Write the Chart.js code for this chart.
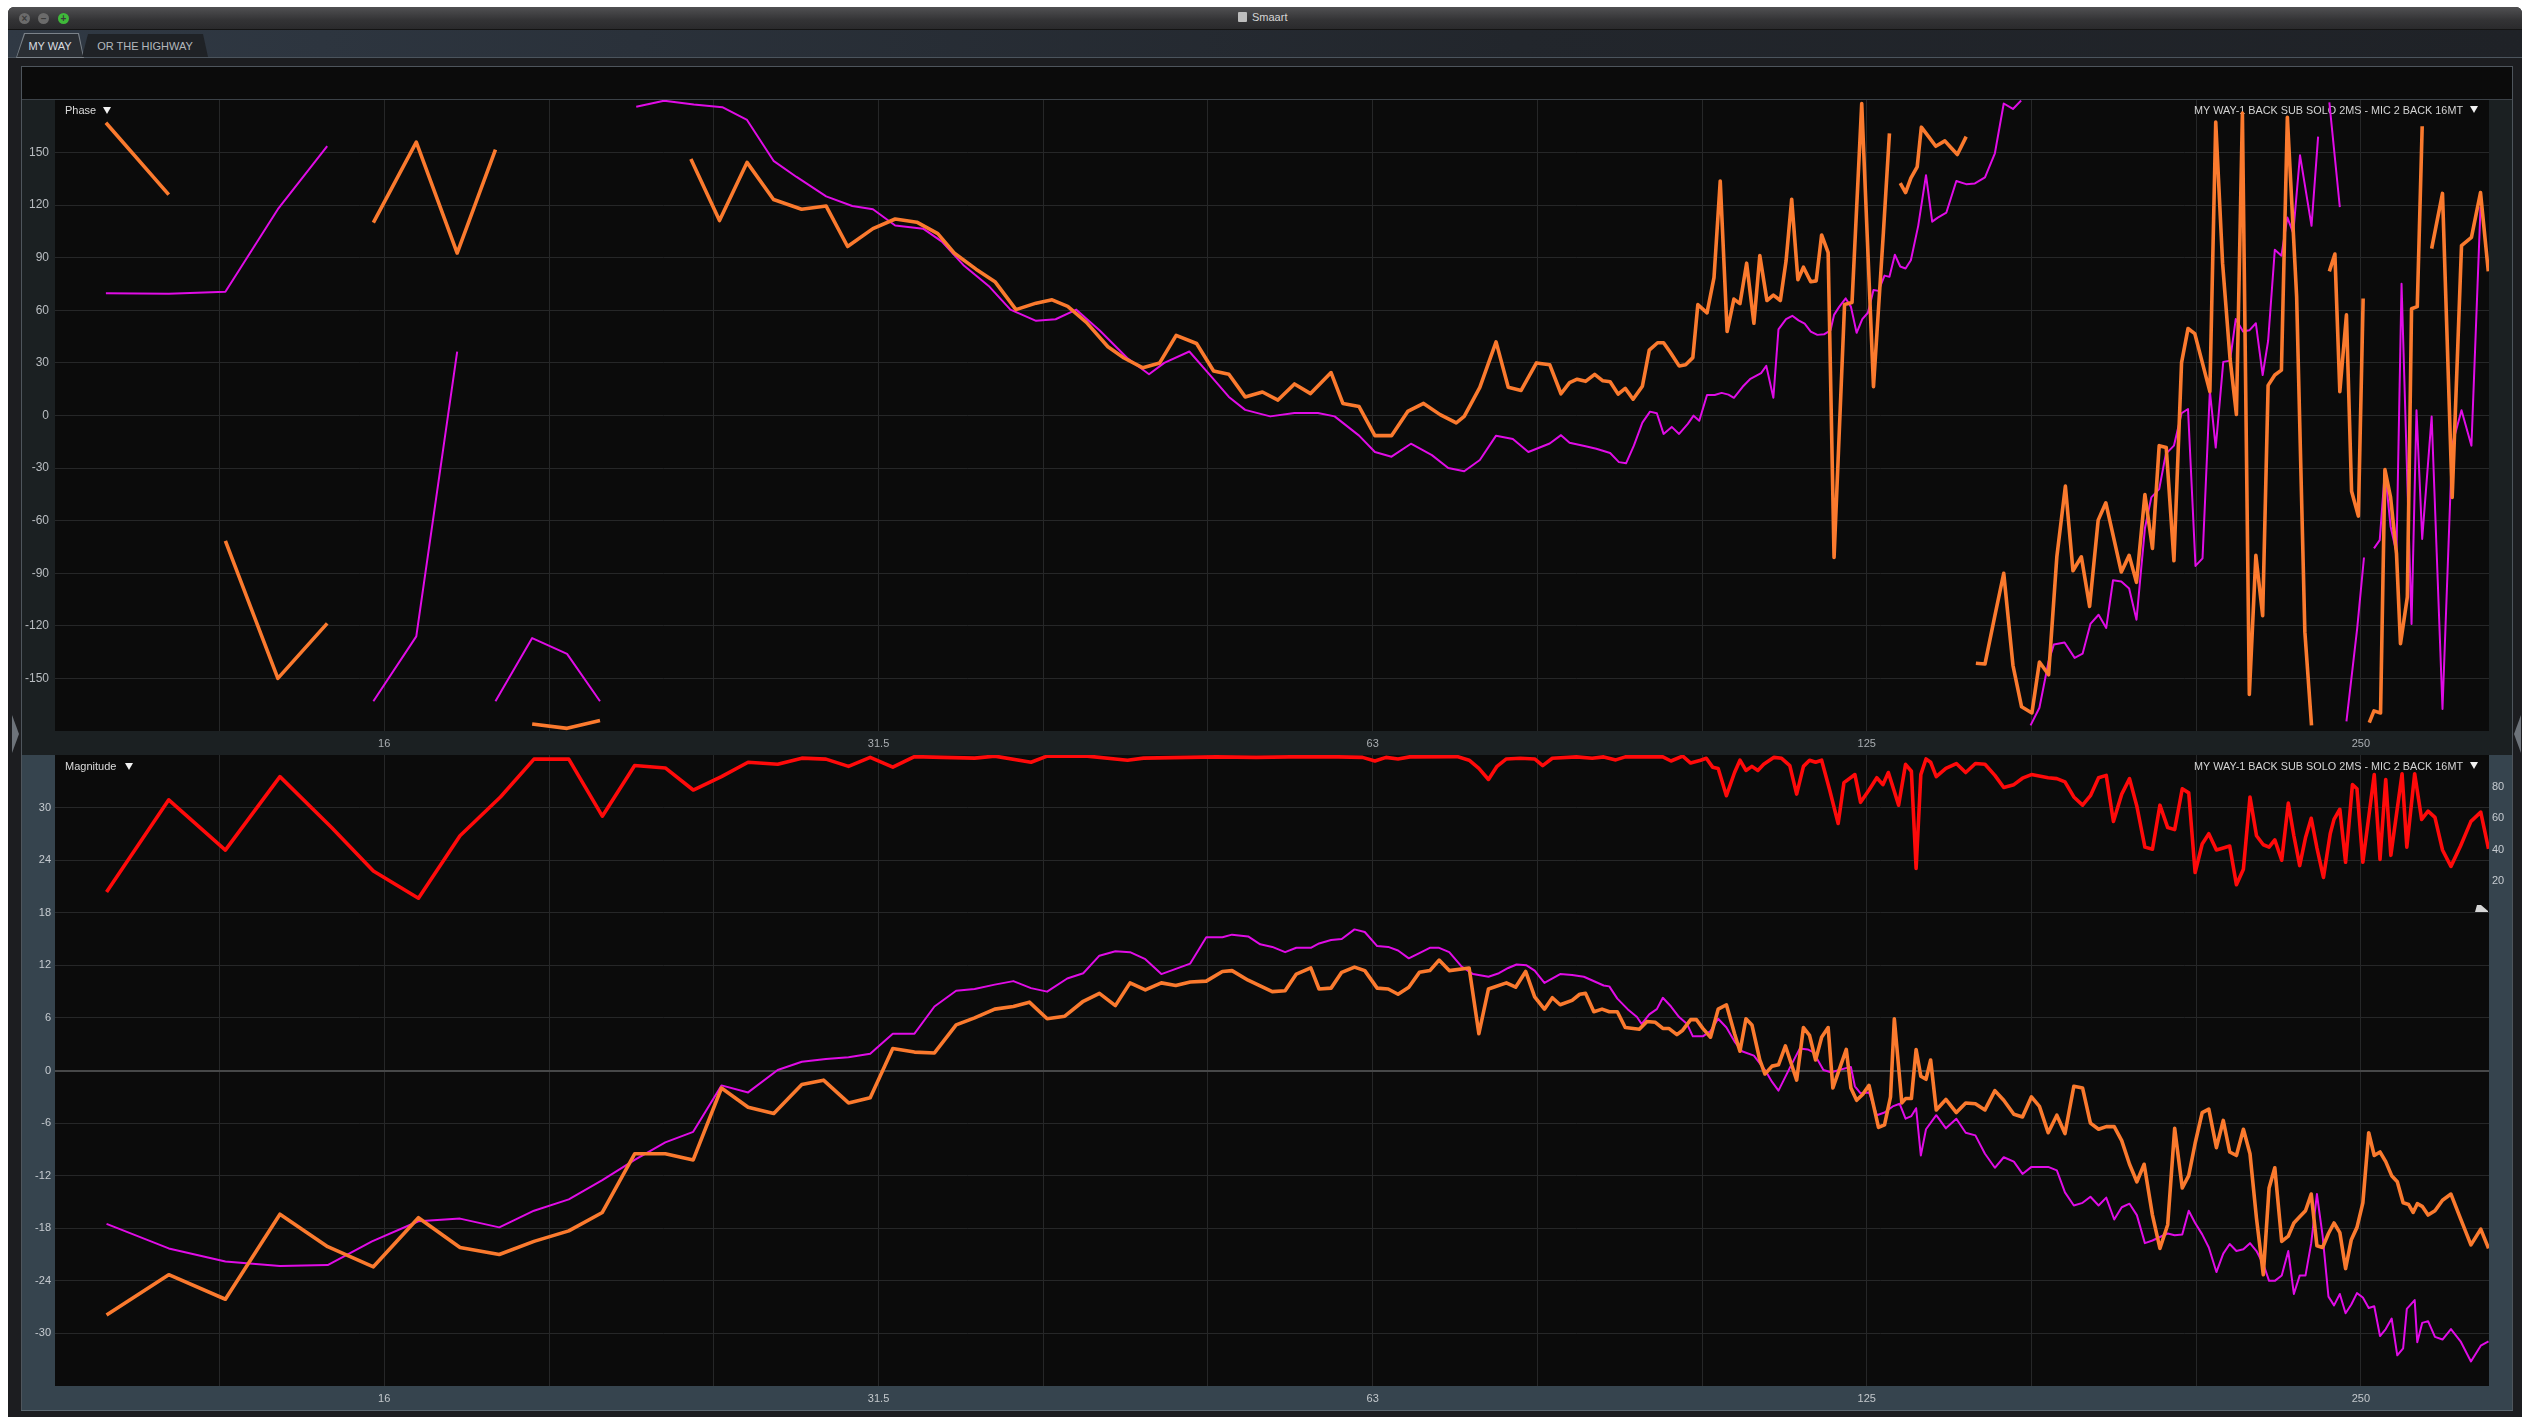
<!DOCTYPE html>
<html>
<head>
<meta charset="utf-8">
<title>Smaart</title>
<script src="https://cdn.jsdelivr.net/npm/chart.js@4.4.1/dist/chart.umd.min.js"></script>
<style>
  html, body { margin:0; padding:0; width:2536px; height:1417px; overflow:hidden; background:#ffffff;
               font-family:"Liberation Sans", Arial, sans-serif; }
  .abs { position:absolute; }
  #win { left:8px; top:7px; width:2514px; height:1410px; background:#1c1d20; border-radius:6px 6px 0 0; }
  #titlebar { left:8px; top:7px; width:2514px; height:22px; border-radius:6px 6px 0 0;
              background:linear-gradient(#505052,#333335 60%,#2a2a2c); border-bottom:1px solid #141414; }
  .light { width:11px; height:11px; border-radius:50%; top:13px; }
  .light span { position:absolute; left:0; top:0; width:11px; height:11px; line-height:11px; text-align:center;
                font-size:10px; font-weight:bold; color:#3a3a3a; }
  #title { left:1252px; top:11px; font-size:11px; color:#d6d6d6; }
  #ticon { left:1238px; top:12px; width:9px; height:10px; background:#bdbdbd; border-radius:1px; }
  #tabstrip { left:8px; top:30px; width:2514px; height:27px;
              background:linear-gradient(90deg,#303944 0%,#2a313a 25%,#22262c 60%,#1f2227 100%);
              border-bottom:1px solid #4b545d; }
  .tab { top:34px; height:23px; line-height:24px; font-size:11px; text-align:center; }
  #tab1 { left:17px; width:66px; background:#2a2e33; color:#dadde0;
          clip-path:polygon(0 100%, 8px 0, calc(100% - 5px) 0, 100% 100%); }
  #tab1b { left:16px; top:33px; width:68px; height:25px; background:#7b8289;
          clip-path:polygon(0 100%, 8px 0, calc(100% - 5px) 0, 100% 100%); }
  #tab2 { left:82px; width:126px; background:#1f2226; color:#b3b8bd;
          clip-path:polygon(0 100%, 6px 0, calc(100% - 5px) 0, 100% 100%); }
  #frame { left:21px; top:66px; width:2490px; height:1343px; border:1px solid #4e555c; background:#0b0b0b; }
  #cmdbar { left:22px; top:67px; width:2490px; height:32px; background:#0b0b0b; border-bottom:1px solid #3c4248; }
  #phase { left:22px; top:100px; background:#1b2022; }
  #mag { left:22px; top:755px; background:#36444e; }
  #bottomline { left:21px; top:1410px; width:2492px; height:1px; background:#5b6770; }
  .split { width:0; height:0; border-top:19px solid transparent; border-bottom:19px solid transparent; }
  #splitL { left:12px; top:715px; border-left:7px solid #6d737a; }
  #splitR { left:2514px; top:715px; border-right:7px solid #6d737a; }
</style>
</head>
<body>
<div id="win" class="abs"></div>
<div id="titlebar" class="abs"></div>
<div class="abs light" style="left:19px;background:#6b6b6b;"><span>×</span></div>
<div class="abs light" style="left:38px;background:#6b6b6b;"><span>–</span></div>
<div class="abs light" style="left:58px;background:#3fb93a;"><span>+</span></div>
<div id="ticon" class="abs"></div>
<div id="title" class="abs">Smaart</div>
<div id="tabstrip" class="abs"></div>
<div id="tab1b" class="abs"></div>
<div id="tab1" class="abs tab">MY WAY</div>
<div id="tab2" class="abs tab">OR THE HIGHWAY</div>
<div id="frame" class="abs"></div>
<div id="cmdbar" class="abs"></div>
<canvas id="phase" class="abs" width="2490" height="655"></canvas>
<canvas id="mag" class="abs" width="2490" height="655"></canvas>
<div id="bottomline" class="abs"></div>
<div id="splitL" class="abs split"></div>
<div id="splitR" class="abs split"></div>

<script>
// ---------- axis definitions ----------
const X_MIN = 10, X_MAX = 304;                       // Hz
const xGridHz   = [12.6, 15.87, 20, 25.2, 31.75, 40, 50.4, 63.5, 80, 100.8, 127, 160, 201.6, 254];
const xLabelHz  = [15.87, 31.75, 63.5, 127, 254];
const xLabelText = ['16', '31.5', '63', '125', '250'];
const phaseTicks = [-150, -120, -90, -60, -30, 0, 30, 60, 90, 120, 150];
const magTicks   = [-30, -24, -18, -12, -6, 0, 6, 12, 18, 24, 30];
const cohTicks   = [20, 40, 60, 80];
const traceName  = 'MY WAY-1 BACK SUB SOLO 2MS - MIC 2 BACK 16MT';

// ---------- phase (degrees); null = wrap / blanked gap ----------
const phaseOrangeHz = [
  10.74, 11.73, 12.2,
  12.70, 13.67, 14.65, 15.1,
  15.63, 16.60, 17.58, 18.55, 19.0,
  19.53, 20.51, 21.48, 23.0,
  24.4, 25.4, 26.4, 27.4, 28.5, 29.5, 30.4, 31.5, 32.5, 33.5, 34.5, 35.3, 36.4, 37.4, 38.5, 39.6, 40.5, 41.4, 42.5, 43.8,
  44.8, 46.0, 47.1, 48.2, 49.6, 50.8, 51.9, 53.1, 54.4, 55.6, 56.9, 58.2, 59.9, 60.9, 62.3, 63.7, 65.2, 66.7, 68.2, 69.8,
  71.4, 72.2, 73.8, 75.5, 76.8, 78.2, 79.9,
  81.4, 82.7, 83.7, 84.6, 85.6, 86.7, 87.7, 88.6, 89.6, 90.5, 91.5, 92.7, 93.6, 94.7, 95.5, 96.4, 97.6, 98.5, 99.5, 100.2,
  101.5, 102.5, 103.4, 104.4, 105.4, 106.3, 107.3, 108.4, 109.3, 110.4, 111.4, 112.5, 113.4, 114.3, 115.3, 116.2, 117.4,
  118.3, 119.2, 120.3, 121.3, 123.1, 124.4, 126.1, 128.2, 130.0, 131.1, 132.0,
  133.1, 134.1, 135.1, 136.3, 137.1, 138.5, 139.9, 141.7, 142.8, 144.2, 146.0, 147.0,
  148.0, 149.9, 152.0, 153.9, 155.9, 157.8, 160.1, 161.8, 163.9, 165.8, 167.8, 169.6, 171.6, 173.6, 175.7, 177.6, 181.5,
  183.5, 185.4, 187.6, 189.6, 191.4, 193.3, 195.4, 197.5, 199.3, 201.2, 205.5, 207.2, 209.2, 211.4, 213.3, 215.1, 217.2,
  219.2, 221.3, 223.0, 225.1, 227.2, 229.1, 232.1, 234.8, 237.0, 240.0,
  243.0, 244.9, 246.6, 248.9, 250.7, 253.1, 254.8, 256.0,
  257.0, 258.7, 261.1, 262.7, 264.8, 267.0, 268.5, 271.1, 272.7, 274.9, 276.8, 278.5,
  280.5, 284.8, 288.7, 292.5, 296.6, 300.4, 303.7
];
const phaseOrangeDeg = [
  167, 126, null,
  -71.5, -150, -118.6, null,
  110, 156, 92.7, 151.7, null,
  -176, -178.5, -174, null,
  146.3, 111.2, 144.4, 123.2, 117.7, 119.5, 96.4, 106.6, 112.1, 110.3, 103.8, 92.7, 83.5, 76.1, 60.4, 64.1, 66.0, 62.3, 53.1, 39.2,
  32.8, 27.2, 30.0, 45.7, 41.1, 25.4, 23.5, 10.6, 13.4, 8.8, 18.0, 12.5, 24.5, 6.9, 5.1, -11.5, -11.5, 2.3, 6.9, 0.5,
  -4.2, -0.5, 16.1, 42.0, 16.1, 14.3, 30.0,
  29.0, 12.4, 18.8, 20.7, 19.5, 23.5, 19.8, 19.3, 12.2, 15.5, 9.3, 16.7, 37.3, 41.5, 41.5, 36.1, 28.3, 29.0, 33.0, 63.3,
  58.6, 78.7, 133.8, 47.9, 66.4, 63.8, 86.9, 52.6, 91.2, 65.6, 68.7, 65.6, 88.1, 123.4, 77.5, 84.6, 76.3,
  76.8, 103.0, 92.9, -81.0, 63.3, 64.5, 178.0, 16.4, 104.7, 161.0, null,
  132.6, 127.2, 135.4, 141.8, 164.5, 159.1, 153.6, 156.7, 153.2, 148.9, 159.1, null,
  -141.3, -141.8, -114.2, -90.0, -142.5, -166.2, -169.7, -140.6, -147.9, -80.6, -40.3, -88.6, -80.6, -108.9, -59.7, -49.8, -89.3,
  -79.8, -95.2, -45.1, -75.8, -17.2, -18.3, -82.9, 30.2, 49.6, 46.7, 13.6, 167.4, 86.9, 32.5, 0.6, 172.6, -159.1,
  -79.8, -114.2, 17.2, 23.1, 25.9, 170.2, 68.0, -123.6, -176.8, null,
  82.2, 92.1, 13.6, 57.4, -43.2, -57.4, 66.8, null,
  -175.2, -168.5, -169.7, -30.9, -46.7, -78.7, -130.2, -103.5, 60.9, 62.1, 165.0, null,
  95.2, 126.7, -46.7, 96.9, 101.6, 127.2, 82.2
];

const phaseMagentaHz = [
  10.74, 11.73, 12.70, 13.67, 14.65, 15.1,
  15.63, 16.60, 17.58, 18.0,
  18.55, 19.53, 20.51, 21.48, 22.0,
  22.6, 23.5, 24.5, 25.5, 26.4, 27.4, 28.3, 29.5, 30.6, 31.5, 32.5, 33.8, 34.7, 35.8, 37.1, 38.2, 39.6, 40.7, 41.9, 43.3,
  45.0, 46.4, 47.4, 49.1, 50.5, 51.9, 53.1, 55.0, 56.9, 58.8, 60.2, 62.3, 63.7, 65.2, 67.0, 69.0, 70.6, 72.2, 73.8, 75.5,
  77.3, 79.0,
  81.4, 82.7, 83.7, 85.6, 86.9, 88.6, 89.7, 90.6, 91.6, 92.7, 93.7, 94.6, 95.5, 96.6, 97.6, 98.8, 99.6, 100.4, 101.5, 102.6,
  103.6, 104.6, 105.4, 106.7, 107.8, 109.5, 110.3, 111.4, 112.2, 113.4, 114.4, 115.4, 116.4, 117.4, 118.5, 119.6, 120.7,
  121.3, 122.2, 123.3, 124.2, 125.2, 126.2, 127.2, 128.2, 129.1, 130.2, 131.1, 132.1, 133.1, 134.1, 135.1, 136.5, 138.0,
  139.2, 140.3, 142.0, 144.0, 146.0, 147.8, 149.9, 152.0, 153.9, 155.9, 157.7, 158.8,
  159.8, 161.8, 163.9, 165.1, 167.6, 170.0, 171.9, 173.8, 175.8, 177.7, 179.4, 181.5, 183.5, 185.4, 187.6, 189.3, 191.4,
  193.2, 195.4, 197.5, 199.3, 201.4, 203.4, 205.5, 207.2, 209.4, 211.4, 213.1, 215.3, 217.2, 219.2, 221.3, 223.0, 225.1,
  227.2, 229.1, 231.0, 233.2, 237.0, 239.2, 241.0,
  243.0, 246.6, 247.8,
  248.9, 252.7, 255.1, 257.0,
  258.7, 260.8, 262.7, 264.8, 267.0, 268.9, 272.7, 274.6, 276.8, 280.5, 284.8, 288.7, 292.5, 296.6, 300.4
];
const phaseMagentaDeg = [
  69.7, 69.5, 70.6, 117.7, 153.7, null,
  -163, -126, 36.4, null,
  -163, -127, -136, -163, null,
  176.2, 179.6, 177.4, 175.9, 168.6, 145.3, 136.1, 125.0, 119.5, 117.7, 108.4, 106.6, 99.2, 85.4, 73.4, 60.4, 54.0, 54.9, 60.4, 48.5,
  32.8, 23.5, 30.0, 36.5, 23.5, 10.6, 3.2, -0.5, 1.4, 1.4, -0.5, -11.5, -20.8, -23.5, -16.1, -22.6, -30.0, -31.8, -25.4, -11.5,
  -13.4, -20.8,
  -16.0, -11.2, -15.5, -17.6, -19.0, -21.4, -26.6, -27.3, -17.2, -4.1, 2.2, 1.3, -10.5, -6.5, -10.5, -4.8, -0.1, -3.0, 11.7, 11.7,
  12.9, 11.9, 10.1, 16.4, 20.7, 24.2, 28.3, 10.1, 49.1, 55.0, 56.9, 54.3, 52.4, 47.9, 46.0, 46.3, 48.6,
  57.4, 62.1, 66.8, 62.1, 47.2, 55.0, 58.6, 71.6, 71.1, 79.8, 79.1, 91.7, 85.0, 83.9, 88.6, 108.2, 137.1,
  110.6, 112.9, 115.8, 133.8, 132.0, 132.4, 135.9, 149.6, 178.0, 174.9, 179.7, null,
  -176.8, -166.7, -140.2, -130.7, -129.5, -138.3, -135.9, -118.9, -113.7, -121.2, -94.0, -94.7, -98.7, -116.5, -64.5, -46.7, -42.0,
  -21.9, -17.2, 1.3, 3.7, -85.8, -81.5, 14.1, -18.3, 30.6, 31.3, 55.0, 47.9, 48.6, 52.6, 23.1, 42.5, 94.5,
  91.2, 113.0, 104.0, 148.5, 108.2, 159.1, null,
  178.7, 118.9, null,
  -174.5, -121.2, -81.0, null,
  -75.8, -71.1, -31.3, -63.3, -78.2, 75.1, -118.9, 3.0, -70.4, -0.6, -167.4, -16.7, 3.0, -17.2, 118.9
];

// ---------- magnitude (dB) ----------
const magOrangeHz = [
  10.75, 11.73, 12.70, 13.71, 14.66, 15.63, 16.65, 17.65, 18.65, 19.58, 20.56, 21.55, 22.55, 23.54, 24.48, 25.47, 26.44,
  27.41, 28.51, 29.39, 30.44, 31.38, 32.39, 33.39, 34.34, 35.40, 36.33, 37.37, 38.36, 39.23, 40.22, 41.23, 42.31, 43.28,
  44.26, 45.18, 46.16, 47.21, 48.17, 49.16, 50.28, 51.43, 52.13, 53.32, 55.16, 56.16, 57.05, 58.22,
  58.9, 59.9, 60.8, 61.9, 62.8, 63.9, 64.9, 65.8, 66.8, 67.8, 68.8, 69.7, 70.7, 72.7, 73.7, 74.7, 76.6, 77.6, 78.7, 79.7,
  80.8, 81.7, 82.6, 84.0, 84.9, 85.6, 86.6, 87.6, 88.5, 89.5, 90.5, 92.3, 93.3, 94.4, 95.4, 96.2, 97.3, 98.1, 99.2, 100.0,
  100.9, 102.0, 103.1, 104.3, 105.5, 106.3, 107.2, 108.1, 109.3, 110.1, 111.2, 112.2, 113.3, 115.1, 116.2, 117.2, 118.2,
  119.2, 120.3, 121.1, 122.5, 123.4, 124.2, 125.2, 126.3, 127.4, 129.1, 130.2, 131.3, 132.0,
  133.4, 134.1, 135.2, 136.1, 137.0, 138.0, 138.9, 140.0, 141.9, 144.0, 145.9, 147.9, 149.9, 152.0, 153.9, 156.1, 158.0,
  160.0, 161.8, 163.8, 165.8, 167.7, 169.8, 171.9, 173.8, 175.8, 177.7, 179.7, 181.6, 183.6, 185.5, 187.4, 189.6, 191.6,
  193.7, 195.6, 197.7, 199.5, 201.3, 203.3, 205.2, 207.4, 209.4, 211.3, 213.3, 215.4, 217.4, 219.4, 221.5, 223.3, 225.1,
  227.3, 229.4, 231.2, 233.1, 235.0, 236.9, 238.8, 240.7, 242.7, 244.6, 246.6, 248.6, 250.6, 252.6, 254.7, 256.8, 258.8,
  260.9, 263.0, 265.2, 267.3, 269.5, 271.6, 273.3, 274.9, 276.8, 279.1, 281.8, 284.8, 288.2, 292.1, 296.4, 300.5, 303.8
];
const magOrangeDb = [
  -27.9, -23.3, -26.1, -16.4, -20.1, -22.4, -16.8, -20.2, -21.0, -19.5, -18.3, -16.2, -9.5, -9.5, -10.2, -2.0, -4.2,
  -4.9, -1.6, -1.1, -3.7, -3.1, 2.5, 2.1, 2.0, 5.2, 6.0, 7.0, 7.3, 7.8, 5.9, 6.2, 7.9, 8.8,
  7.4, 10.0, 9.2, 10.0, 9.7, 10.1, 10.2, 11.3, 11.4, 10.3, 9.0, 9.1, 11.0, 11.7,
  9.3, 9.4, 11.2, 11.8, 11.4, 9.4, 9.3, 8.7, 9.5, 11.2, 11.4, 12.6, 11.4, 11.7, 4.2, 9.3, 10.0, 9.5, 11.3, 8.4,
  7.0, 8.3, 7.5, 8.0, 8.7, 8.8, 6.7, 7.0, 6.7, 6.7, 4.9, 4.7, 5.6, 5.5, 4.8, 4.8, 4.1, 4.6, 5.8, 5.8,
  4.8, 3.8, 7.0, 7.5, 4.2, 2.2, 5.9, 5.2, 1.2, -0.4, 0.5, 0.65, 2.8, -1.1, 4.9, 4.0, 1.2,
  3.8, 4.9, -2.0, 0.7, 2.4, -2.0, -3.4, -2.7, -1.7, -6.5, -6.2, -3.0, 5.9,
  -3.7, -3.2, -3.2, 2.4, -0.65, -1.0, 1.2, -4.5, -3.3, -4.8, -3.7, -3.8, -4.5, -2.3, -3.4, -5.0, -5.3,
  -3.0, -4.1, -7.1, -5.1, -7.2, -1.8, -2.0, -6.0, -6.7, -6.4, -6.4, -8.0, -10.7, -12.7, -10.7, -16.5, -20.3,
  -17.6, -6.6, -13.4, -12.0, -8.3, -4.8, -4.4, -8.8, -5.7, -9.3, -9.7, -6.7, -9.5, -16.9, -23.3, -13.4, -11.1,
  -19.5, -18.9, -17.4, -16.7, -16.0, -14.1, -20.0, -20.2, -18.6, -17.4, -18.5, -22.6, -19.3, -17.9, -15.1, -7.1, -9.7,
  -9.3, -10.4, -12.0, -12.7, -15.1, -15.3, -16.2, -15.2, -15.5, -16.5, -16.0, -14.8, -14.1, -16.9, -19.9, -18.1, -20.3
];

const magMagentaHz = [
  10.75, 11.73, 12.70, 13.71, 14.66, 15.60, 16.65, 17.65, 18.65, 19.58, 20.56, 21.55, 22.55, 23.54, 24.48, 25.47, 26.44,
  27.56, 28.51, 29.49, 30.44, 31.38, 32.39, 33.39, 34.34, 35.40, 36.33, 37.37, 38.36, 39.32, 40.22, 41.37, 42.31, 43.28,
  44.26, 45.18, 46.16, 47.21, 49.16, 50.28, 51.43, 52.13, 53.32, 54.23, 55.16, 56.16, 57.05, 58.22,
  58.9, 59.9, 60.8, 61.9, 62.8, 63.9, 64.9, 65.8, 66.8, 67.8, 68.8, 69.7, 70.7, 71.9, 73.1, 74.7, 75.8, 76.8, 77.7, 78.8,
  79.7, 80.8, 82.6, 84.0, 85.4, 87.8, 88.5, 89.5, 90.8, 92.0, 92.6, 93.6, 94.6, 95.4, 96.5, 97.6, 98.7, 99.5, 100.9,
  102.0, 103.1, 104.3, 105.5, 106.6, 108.4, 110.1, 111.2, 112.2, 114.0, 115.6, 116.9, 117.8, 119.5, 120.8, 122.2, 123.5,
  124.2, 124.9, 125.9, 127.4, 128.8, 130.2, 131.7,
  133.0, 134.1, 135.2, 136.1, 137.0, 138.0, 140.0, 141.9, 144.0, 145.9, 147.9, 149.9, 152.0, 153.9, 156.1, 158.0, 160.0,
  163.8, 165.8, 167.7, 169.8, 171.9, 173.8, 175.8, 177.7, 179.7, 181.6, 183.6, 185.5, 187.6, 189.6, 191.6, 193.7, 195.6,
  197.7, 199.5, 201.3, 203.3, 205.2, 207.4, 209.4, 211.3, 213.3, 215.4, 217.4, 219.4, 221.5, 223.3, 225.1, 227.3, 229.4,
  231.2, 233.1, 235.0, 236.9, 238.8, 240.7, 242.7, 244.6, 246.6, 248.6, 250.6, 252.6, 254.7, 256.8, 258.8, 260.9, 263.0,
  265.2, 267.3, 269.5, 270.9, 273.9, 274.9, 276.8, 279.1, 281.8, 284.8, 288.2, 292.1, 296.4, 300.5, 303.8
];
const magMagentaDb = [
  -17.5, -20.3, -21.8, -22.3, -22.2, -19.5, -17.2, -16.9, -17.9, -16.0, -14.7, -12.5, -10.2, -8.2, -7.0, -1.7, -2.5,
  0.05, 1.0, 1.3, 1.5, 1.9, 4.2, 4.2, 7.3, 9.1, 9.3, 9.8, 10.2, 9.4, 9.0, 10.5, 11.1, 13.1,
  13.6, 13.5, 12.7, 11.0, 12.2, 15.2, 15.2, 15.5, 15.3, 14.4, 14.1, 13.5, 14.0, 14.0,
  14.5, 14.9, 15.0, 16.1, 15.8, 14.2, 14.1, 13.7, 12.8, 13.4, 14.0, 14.0, 13.5, 11.9, 11.0, 10.7, 11.1, 11.7, 12.1, 12.0,
  11.4, 10.0, 11.0, 10.9, 10.7, 9.7, 9.6, 8.2, 7.0, 6.1, 5.3, 6.4, 7.0, 8.3, 7.3, 6.1, 5.3, 3.9, 3.9,
  4.5, 5.9, 4.9, 3.3, 2.2, 1.7, 0.05, -1.3, -2.3, 0.3, 2.5, 2.4, 2.1, 0.05, -0.2, 0.05, 0.3,
  0.4, -1.8, -2.6, -2.5, -5.1, -4.8, -4.1,
  -3.8, -5.5, -5.2, -4.3, -9.7, -6.7, -5.1, -6.6, -5.5, -7.1, -7.4, -9.5, -11.1, -9.9, -10.4, -11.8, -11.0,
  -11.0, -11.4, -13.9, -15.4, -15.1, -14.4, -15.4, -14.5, -17.0, -15.6, -15.2, -16.5, -19.7, -19.4, -19.0, -18.6, -18.8,
  -18.7, -16.0, -17.4, -18.7, -20.2, -23.0, -20.9, -19.8, -20.6, -20.4, -19.7, -20.6, -22.1, -24.0, -24.0, -23.4, -20.6,
  -25.5, -23.4, -23.4, -19.7, -14.1, -18.8, -25.8, -26.8, -25.5, -27.7, -26.7, -25.4, -25.9, -27.1, -26.9, -30.3, -29.5,
  -28.3, -32.5, -31.7, -27.2, -26.2, -31.0, -28.8, -28.6, -30.4, -30.7, -29.5, -30.9, -33.2, -31.4, -30.9
];

// ---------- coherence (%) ----------
const cohHz = [
  10.75, 11.73, 12.70, 13.71, 14.74, 15.63, 16.65, 17.65, 18.68, 19.58, 20.56, 21.55, 22.55, 23.54, 24.48, 25.47, 26.44,
  27.56, 28.51, 29.49, 30.44, 31.38, 32.39, 33.39, 34.73, 36.33, 37.37, 39.32, 40.22, 42.55, 45.02, 46.05, 50.97, 53.92,
  57.71, 60.5, 62.6, 63.7, 64.7, 65.8, 66.9, 71.5, 72.7, 73.7, 74.7, 75.6, 76.6, 78.1, 79.7, 80.6, 81.7, 84.5, 86.4,
  87.8, 89.3, 90.5, 94.4, 95.4, 96.5, 98.1, 99.2, 100.6, 101.4, 102.3, 103.1, 104.3, 105.5, 106.3, 107.2, 108.1, 109.0,
  109.9, 111.5, 112.7, 114.0, 115.1, 116.2, 117.2, 118.2, 119.2, 120.5, 122.0, 123.0, 124.9, 125.9, 127.4, 128.8, 129.9,
  130.9, 132.8, 134.1, 135.2, 136.1, 137.0, 138.0, 138.9, 140.0, 141.9, 144.0, 145.9, 147.9, 149.9, 152.0, 153.9,
  156.1, 158.0, 160.0, 163.8, 165.8, 167.7, 169.8, 171.9, 173.8, 175.8, 177.7, 179.5, 181.6, 183.6, 185.5, 187.6, 189.6,
  191.6, 193.7, 195.6, 197.7, 199.5, 201.3, 203.3, 205.2, 207.4, 209.4, 211.3, 213.3, 215.4, 217.4, 219.4, 221.5, 223.3,
  225.1, 227.3, 229.4, 231.2, 233.1, 235.0, 236.9, 238.8, 241.0, 243.3, 244.6, 246.6, 248.6, 251.0, 252.6, 254.7, 258.8,
  260.9, 263.0, 264.9, 269.1, 270.9, 273.9, 276.6, 279.1, 281.8, 284.8, 288.2, 292.1, 296.4, 300.5, 303.8
];
const cohPct = [
  13.1, 71.6, 39.7, 86.3, 54.0, 26.5, 9.2, 48.8, 73.4, 97.4, 97.4, 61.2, 93.3, 91.8, 77.8, 86.3, 95.4,
  94.1, 98.0, 97.4, 92.8, 98.5, 92.3, 99.0, 98.5, 98.0, 99.3, 95.4, 99.3, 99.3, 96.7, 98.0, 98.8, 98.5,
  99.0, 98.8, 98.5, 96.2, 98.5, 97.5, 98.8, 99.0, 96.7, 91.5, 84.5, 92.8, 97.5, 97.9, 97.5, 93.3, 97.9, 98.8, 97.9,
  98.8, 96.9, 98.8, 99.0, 98.8, 96.2, 99.3, 94.9, 96.7, 97.9, 92.3, 91.5, 74.2, 88.9, 96.7, 90.2, 92.8, 90.2,
  94.1, 98.5, 97.9, 93.3, 75.2, 92.8, 96.7, 95.4, 96.7, 78.6, 56.6, 82.5, 87.6, 70.0, 77.8, 85.6, 81.2,
  88.9, 68.2, 94.1, 89.7, 28.1, 87.6, 97.5, 95.4, 86.3, 91.5, 94.6, 88.9, 94.6, 94.1, 87.1, 79.4,
  81.2, 85.3, 87.6, 85.6, 85.0, 83.0, 73.4, 68.2, 74.2, 85.6, 87.1, 57.9, 75.2, 85.0, 67.5, 41.6, 40.3,
  68.2, 54.0, 52.7, 78.6, 76.0, 25.5, 43.6, 50.1, 39.8, 41.1, 42.3, 17.8, 27.6, 73.4, 48.8, 43.1, 41.6,
  46.2, 33.3, 69.5, 48.8, 29.9, 47.5, 59.9, 41.1, 22.4, 50.1, 59.2, 65.6, 32.0, 81.2, 78.6, 32.0, 87.6,
  33.8, 84.5, 36.4, 88.1, 41.6, 88.1, 59.2, 64.4, 60.5, 39.8, 29.4, 42.3, 57.9, 63.8, 40.5
];

// ---------- styling ----------
const FONT = '"Liberation Sans", Arial, sans-serif';
const ORANGE = '#fb7a2e';
const MAGENTA = '#e00ce6';
const RED = '#ff0a0a';
const GRID = '#262728';

function series(hz, vals) { return hz.map((f, i) => ({ x: f, y: vals[i] })); }

function xScale(labelColor) {
  return {
    type: 'logarithmic', min: X_MIN, max: X_MAX,
    afterBuildTicks: s => { s.ticks = xGridHz.map(v => ({ value: v })); },
    afterFit: s => { s.height = 24; s.paddingLeft = 0; s.paddingRight = 0; },
    ticks: {
      autoSkip: false, maxRotation: 0, minRotation: 0, padding: 6, color: labelColor,
      font: { family: FONT, size: 11 },
      callback: v => { const i = xLabelHz.findIndex(h => Math.abs(h - v) < 0.01); return i >= 0 ? xLabelText[i] : ''; }
    },
    grid: { color: GRID, lineWidth: 1, drawTicks: false },
    border: { display: false }
  };
}

function yScale(min, max, tickList, labelColor, size, pad, gridColorFn, gridWidthFn) {
  return {
    min: min, max: max,
    afterBuildTicks: s => { s.ticks = tickList.map(v => ({ value: v })); },
    afterFit: s => { s.width = 33; s.paddingTop = 0; s.paddingBottom = 0; },
    ticks: { padding: pad, color: labelColor, font: { family: FONT, size: size }, callback: v => String(v) },
    grid: { color: gridColorFn, lineWidth: gridWidthFn, drawTicks: false },
    border: { display: false }
  };
}

// dark plot well behind the grid
const plotWell = {
  id: 'plotWell',
  beforeDraw(chart) {
    const { ctx, chartArea: a } = chart;
    ctx.save();
    ctx.fillStyle = '#0b0b0b';
    ctx.fillRect(a.left, a.top, a.right - a.left, a.bottom - a.top);
    ctx.restore();
  }
};

function downArrow(ctx, x, y) {
  ctx.beginPath();
  ctx.moveTo(x, y - 4); ctx.lineTo(x + 8, y - 4); ctx.lineTo(x + 4, y + 3); ctx.closePath();
  ctx.fill();
}

// panel captions: measurement name at left, trace name at right
function captionPlugin(name, nameArrowX, y, extra) {
  return {
    id: 'caption_' + name,
    beforeDatasetsDraw(chart) {
      const ctx = chart.ctx;
      ctx.save();
      ctx.font = '11px ' + FONT;
      ctx.textBaseline = 'middle';
      ctx.fillStyle = '#dcdcdc';
      ctx.fillText(name, 43, y);
      ctx.fillStyle = '#f2f2f2';
      downArrow(ctx, nameArrowX, y);
      const w = ctx.measureText(traceName).width;
      const target = 269;
      ctx.translate(2172, y);
      ctx.scale(target / w, 1);
      ctx.fillStyle = '#d4d4d4';
      ctx.fillText(traceName, 0, 0);
      ctx.setTransform(1, 0, 0, 1, 0, 0);
      ctx.fillStyle = '#f2f2f2';
      downArrow(ctx, 2448, y - 1);
      if (extra) extra(ctx);
      ctx.restore();
    }
  };
}

const commonOpts = {
  responsive: false, animation: false, devicePixelRatio: 1,
  events: [],
  elements: { point: { radius: 0 }, line: { tension: 0, borderJoinStyle: 'round', fill: false } },
  plugins: { legend: { display: false }, tooltip: { enabled: false } }
};

// ---------- phase panel ----------
new Chart(document.getElementById('phase'), {
  type: 'line',
  data: {
    datasets: [
      { data: series(phaseOrangeHz, phaseOrangeDeg), borderColor: ORANGE, borderWidth: 3.6, order: 0, clip: 0 },
      { data: series(phaseMagentaHz, phaseMagentaDeg), borderColor: MAGENTA, borderWidth: 2, order: 1, clip: 0 }
    ]
  },
  options: Object.assign({}, commonOpts, {
    layout: { padding: { left: 0, right: 23, top: 0, bottom: 0 } },
    scales: {
      x: xScale('#a9adb1'),
      y: yScale(-180, 180, phaseTicks, '#b8bcc0', 12, 6, () => GRID, () => 1)
    }
  }),
  plugins: [plotWell, captionPlugin('Phase', 81, 11)]
});

// ---------- magnitude + coherence panel ----------
new Chart(document.getElementById('mag'), {
  type: 'line',
  data: {
    datasets: [
      { data: series(magOrangeHz, magOrangeDb), borderColor: ORANGE, borderWidth: 3.6, order: 0, yAxisID: 'y', clip: 0 },
      { data: series(magMagentaHz, magMagentaDb), borderColor: MAGENTA, borderWidth: 2, order: 1, yAxisID: 'y', clip: 0 },
      { data: series(cohHz, cohPct), borderColor: RED, borderWidth: 3.6, order: 2, yAxisID: 'coh', clip: 0 }
    ]
  },
  options: Object.assign({}, commonOpts, {
    layout: { padding: 0 },
    scales: {
      x: xScale('#c3c8cc'),
      y: yScale(-36, 36, magTicks, '#c6cbd0', 11, 4,
                c => (c.tick && c.tick.value === 0) ? '#474849' : GRID,
                c => (c.tick && c.tick.value === 0) ? 2 : 1),
      coh: {
        position: 'right', min: -300, max: 100,
        afterBuildTicks: s => { s.ticks = cohTicks.map(v => ({ value: v })); },
        afterFit: s => { s.width = 23; s.paddingTop = 0; s.paddingBottom = 0; },
        ticks: { padding: 3, color: '#c6cbd0', font: { family: FONT, size: 11 }, callback: v => String(v) },
        grid: { display: false, drawTicks: false },
        border: { display: false }
      }
    }
  }),
  plugins: [plotWell, captionPlugin('Magnitude', 103, 12, ctx => {
    // coherence threshold handle at the right edge
    ctx.fillStyle = '#d6d6d6';
    ctx.beginPath();
    ctx.moveTo(2453, 157); ctx.lineTo(2455, 150); ctx.lineTo(2459, 150); ctx.lineTo(2466, 156); ctx.lineTo(2466, 157);
    ctx.closePath(); ctx.fill();
  })]
});
</script>
</body>
</html>
